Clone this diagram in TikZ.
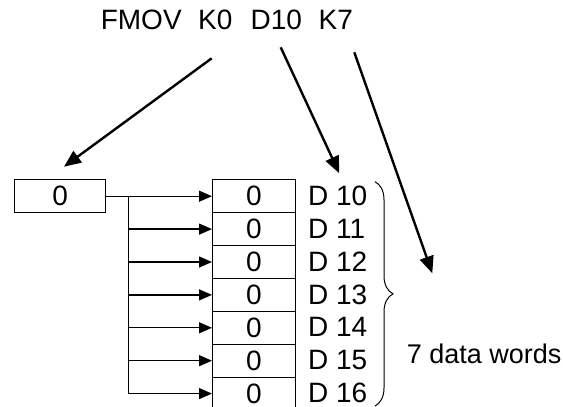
\documentclass[tikz,border=0pt]{standalone}
\usepackage{fontspec}
\setmainfont{Liberation Sans}
\usetikzlibrary{arrows.meta,decorations.pathreplacing}
\begin{document}
\begin{tikzpicture}[x=1pt,y=-1pt,
  every node/.style={font=\fontsize{28}{30}\selectfont, inner sep=0pt},
  cell/.style={draw, line width=0.9pt, minimum width=83pt, minimum height=32.9pt, anchor=north west},
  feed/.style={line width=1.3pt, -{Triangle[length=13pt,width=11pt]}},
  pointer/.style={line width=2.4pt, -{Triangle[length=17pt,width=14pt]}},
  word/.style={anchor=base west}]
\useasboundingbox (0,0) rectangle (563,407);
% title
\node[word] (fmov) at (100.6,29.5) {FMOV};
\node[word] (k0) at (198,29.5) {K0};
\node[word] (d10) at (250.5,29.5) {D10};
\node[word] (k7) at (318.5,29.5) {K7};
% source box
\node[cell, minimum width=91.3pt] (src) at (14,179.3) {0};
% destination cells and labels
\foreach \i in {0,...,6} {
  \node[cell] (d\i) at (212,179.3+32.9*\i) {0};
  \node[anchor=west] (l\i) at (308,195.75+32.9*\i) {D 1\i};
}
% feed lines
\coordinate (j) at (128.7,195.75);
\draw[feed] (src.east) -- (d0.west);
\draw[line width=1.3pt] (j) -- (j |- d6.west);
\foreach \i in {1,...,6} \draw[feed] (j |- d\i.west) -- (d\i.west);
% pointer arrows
\coordinate (k0s) at (211.7,58.3);
\coordinate (k0t) at (64,166.7);
\coordinate (d10s) at (280.7,47.3);
\coordinate (d10t) at (339.3,173.3);
\coordinate (k7s) at (354.3,52.3);
\coordinate (k7t) at (432.3,273.3);
\draw[pointer] (k0s) -- (k0t);
\draw[pointer] (d10s) -- (d10t);
\draw[pointer] (k7s) -- (k7t);
% brace
\coordinate (bt) at (375,181.7);
\coordinate (bb) at (375,406);
\draw[decorate, decoration={brace, amplitude=18pt}, line width=1pt] (bt) -- (bb);
\node[anchor=base west, font=\fontsize{27}{30}\selectfont] (words) at (406.6,363.3) {7 data words};
\end{tikzpicture}
\end{document}
